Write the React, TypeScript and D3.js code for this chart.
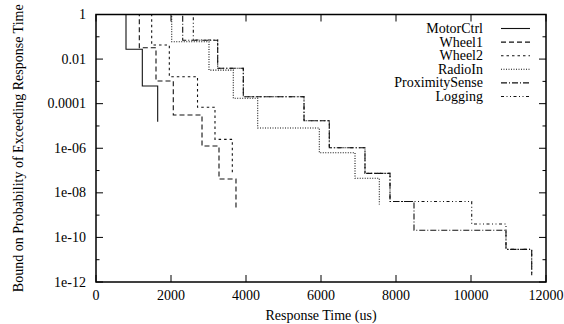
import React, { useEffect, useRef } from 'react';
import * as d3 from 'd3';

// [time (us), bound on P(R > t)] -- the curve holds this level from this time on
const motorCtrl: [number, number][] = [[0, 1], [800, 0.0275], [1235, 6.2e-4], [1645, 1.55e-5]];
const wheel1: [number, number][] = [[0, 1], [1155, 0.0324], [1600, 1.04e-3], [2061, 3.1e-5], [2827, 1.26e-6], [3280, 4.2e-8], [3733, 1.88e-9]];
const wheel2: [number, number][] = [[0, 1], [1485, 0.043], [1955, 1.62e-3], [2707, 6.9e-5], [3173, 2.5e-6], [3635, 8e-8]];
const radioIn: [number, number][] = [[0, 1], [2019, 0.06], [3013, 3.2e-3], [3661, 1.74e-4], [4312, 8.1e-6], [5955, 6.3e-7], [6907, 4.5e-8], [7555, 3.0e-9]];
const proximitySense: [number, number][] = [[0, 1], [2312, 0.07], [3245, 3.9e-3], [3928, 2.05e-4], [5547, 1.72e-5], [6221, 1.05e-6], [7173, 7.5e-8], [7840, 4.1e-9], [8480, 2.1e-10], [10933, 2.9e-11], [11619, 2.0e-12]];
const logging: [number, number][] = [[0, 1], [2595, 0.072], [3245, 3.9e-3], [3928, 2.05e-4], [5547, 1.72e-5], [6221, 1.05e-6], [7173, 7.5e-8], [7840, 4.1e-9], [10019, 4.0e-10], [10933, 2.9e-11], [11619, 2.0e-12]];

const seriesNames = ['MotorCtrl', 'Wheel1', 'Wheel2', 'RadioIn', 'ProximitySense', 'Logging'];
const seriesData = [motorCtrl, wheel1, wheel2, radioIn, proximitySense, logging];
const dashes = ['none', '5,3', '2.5,3', '1,1.5', '6,2,1,2', '3,2.5,1,2.5,1,2.5'];

const xTicks = [0, 2000, 4000, 6000, 8000, 10000, 12000];
const yMajor = [1, 1e-2, 1e-4, 1e-6, 1e-8, 1e-10, 1e-12];
const yMajorLabels = ['1', '0.01', '0.0001', '1e-06', '1e-08', '1e-10', '1e-12'];
const yMinor = [1e-1, 1e-3, 1e-5, 1e-7, 1e-9, 1e-11];

const W = 564, H = 324;
const margin = { top: 14.5, right: 18, bottom: 42, left: 96 };
const font = '"Liberation Serif", "Times New Roman", serif';

export default function App() {
  const ref = useRef<SVGSVGElement>(null);

  useEffect(() => {
    const svg = d3.select(ref.current);
    svg.selectAll('*').remove();

    const x = d3.scaleLinear().domain([0, 12000]).range([margin.left, W - margin.right]);
    const y = d3.scaleLog().domain([1e-12, 1]).range([H - margin.bottom, margin.top]);

    const line = d3.line<[number, number]>()
      .x(d => x(d[0]))
      .y(d => y(d[1]))
      .curve(d3.curveStepAfter);

    seriesData.forEach((s, i) => {
      svg.append('path')
        .attr('d', line(s))
        .attr('fill', 'none')
        .attr('stroke', '#111')
        .attr('stroke-width', 1.1)
        .attr('stroke-dasharray', dashes[i]);
    });

    const x0 = margin.left, x1 = W - margin.right;
    const y0 = H - margin.bottom, y1 = margin.top;
    const ticks = svg.append('g').attr('stroke', '#000').attr('stroke-width', 1);

    xTicks.forEach(t => {
      ticks.append('line').attr('x1', x(t)).attr('x2', x(t)).attr('y1', y0).attr('y2', y0 - 7);
      ticks.append('line').attr('x1', x(t)).attr('x2', x(t)).attr('y1', y1).attr('y2', y1 + 7);
    });
    yMajor.forEach(v => {
      ticks.append('line').attr('x1', x0).attr('x2', x0 + 7).attr('y1', y(v)).attr('y2', y(v));
      ticks.append('line').attr('x1', x1).attr('x2', x1 - 7).attr('y1', y(v)).attr('y2', y(v));
    });
    yMinor.forEach(v => {
      ticks.append('line').attr('x1', x0).attr('x2', x0 + 3.5).attr('y1', y(v)).attr('y2', y(v));
      ticks.append('line').attr('x1', x1).attr('x2', x1 - 3.5).attr('y1', y(v)).attr('y2', y(v));
    });

    svg.append('rect')
      .attr('x', x0).attr('y', y1)
      .attr('width', x1 - x0).attr('height', y0 - y1)
      .attr('fill', 'none').attr('stroke', '#000').attr('stroke-width', 1.5);

    const text = svg.append('g').attr('font-family', font).attr('font-size', 14).attr('fill', '#000');

    xTicks.forEach(t => {
      text.append('text').attr('x', x(t)).attr('y', 300).attr('text-anchor', 'middle').text(t);
    });
    yMajor.forEach((v, i) => {
      text.append('text').attr('x', 86).attr('y', y(v) + 4.5).attr('text-anchor', 'end').text(yMajorLabels[i]);
    });

    text.append('text')
      .attr('x', (x0 + x1) / 2).attr('y', 320)
      .attr('text-anchor', 'middle')
      .text('Response Time (us)');

    text.append('text')
      .attr('transform', `translate(23,${(y0 + y1) / 2}) rotate(-90)`)
      .attr('text-anchor', 'middle')
      .text('Bound on Probability of Exceeding Response Time');

    // legend
    seriesNames.forEach((name, i) => {
      const ly = 28.5 + i * 13.6;
      text.append('text').attr('x', 483).attr('y', ly + 4.5).attr('text-anchor', 'end').text(name);
      svg.append('line')
        .attr('x1', 501).attr('x2', 530).attr('y1', ly).attr('y2', ly)
        .attr('stroke', '#111').attr('stroke-width', 1.1)
        .attr('stroke-dasharray', dashes[i]);
    });
  }, []);

  return (
    <svg ref={ref} width={W} height={H}
      style={{ position: 'absolute', left: 0, top: 0, background: '#fff' }} />
  );
}
